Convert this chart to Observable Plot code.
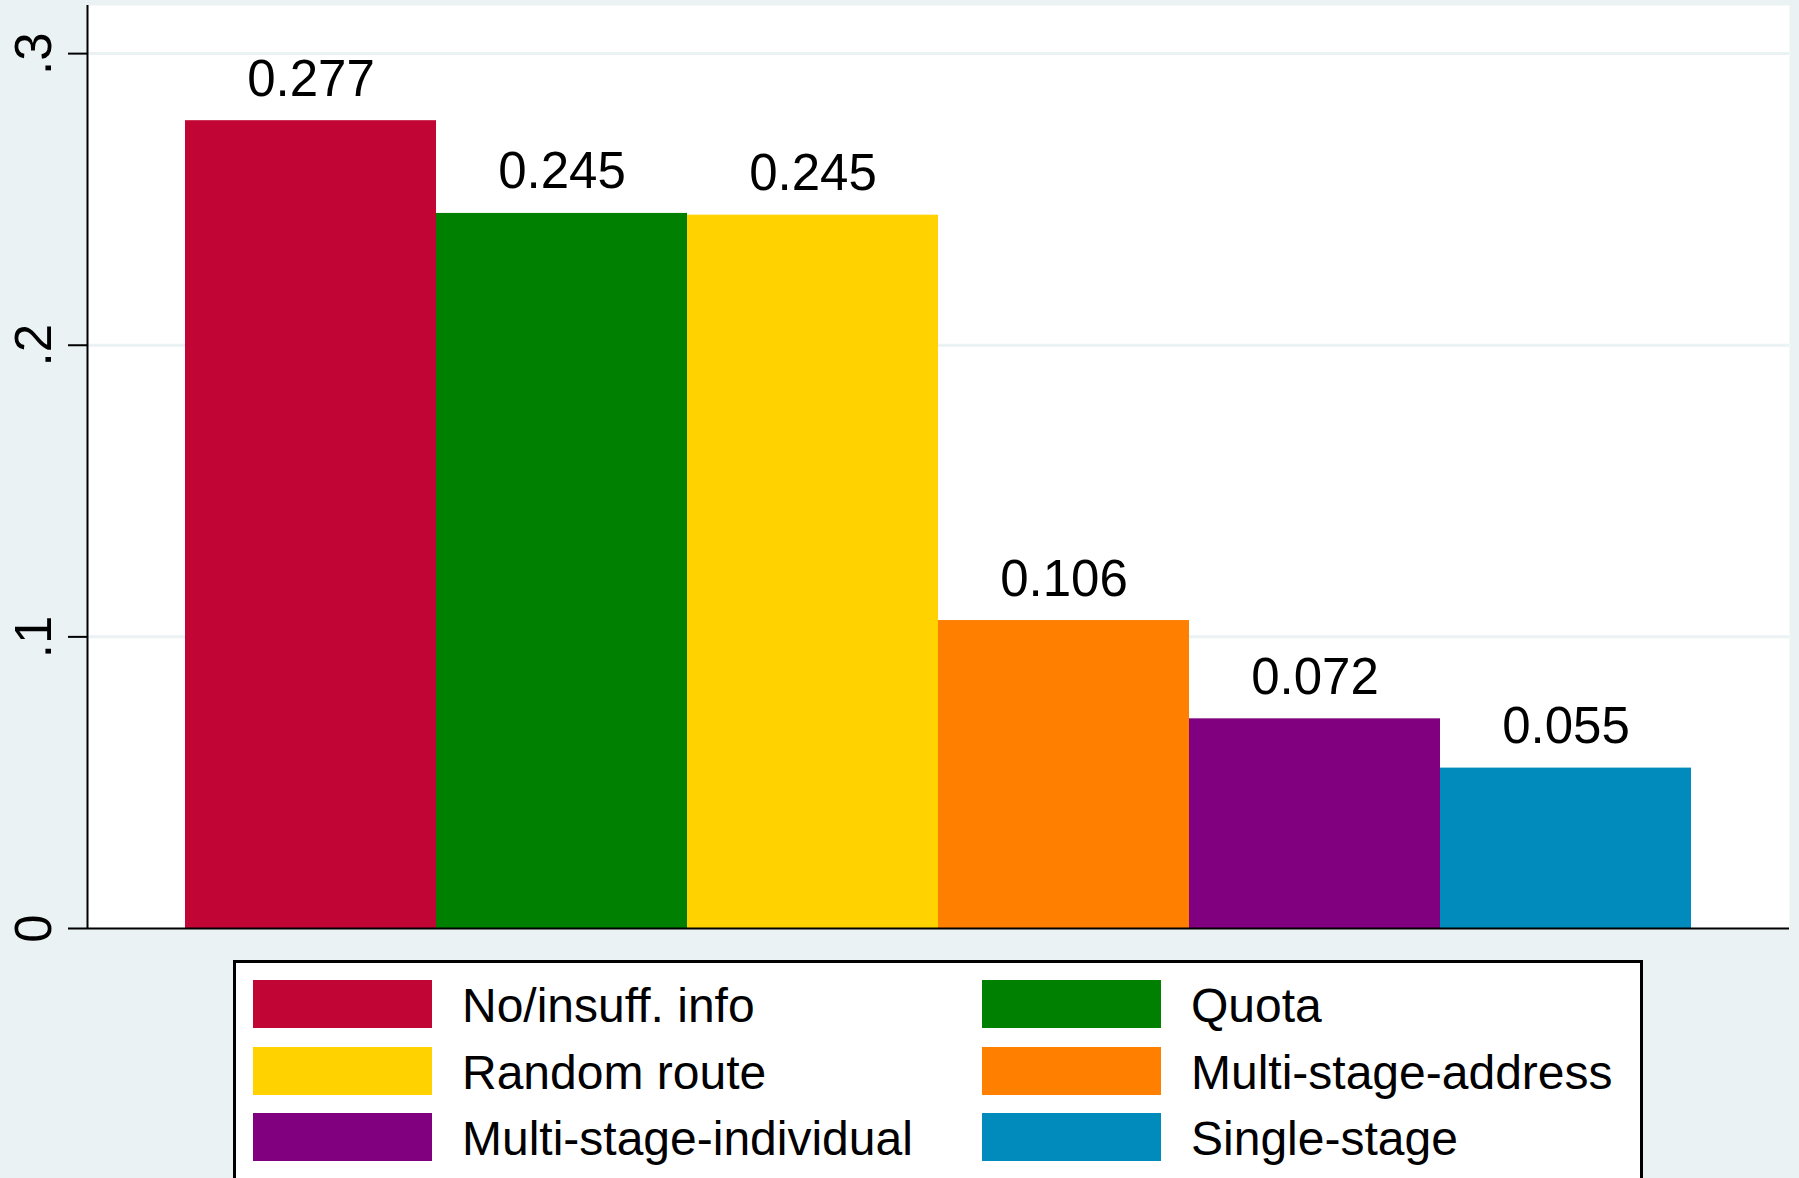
<!DOCTYPE html>
<html>
<head>
<meta charset="utf-8">
<script src="https://cdn.jsdelivr.net/npm/d3@7"></script>
<script src="https://cdn.jsdelivr.net/npm/@observablehq/plot@0.6"></script>
<style>
  html, body { margin: 0; padding: 0; background: #EAF2F3; overflow: hidden; }
  body { width: 1799px; height: 1178px; font-family: "Liberation Sans", Arial, sans-serif; }
  #chart svg { display: block; }
  #legend {
    margin-left: 233px;
    width: 1410px;
    height: 260px;
    background: white;
    border: 3px solid black;
    box-sizing: border-box;
    padding: 17px 0 0 17px;
    display: grid;
    grid-template-columns: 729px 600px;
    grid-auto-rows: 48px;
    row-gap: 18.5px;
  }
  .item { display: flex; align-items: center; height: 48px; }
  .sw { width: 179px; height: 48px; flex: none; }
  .lab { margin-left: 30px; font-size: 48px; line-height: 48px; color: black; white-space: nowrap; position: relative; top: 2px; }
</style>
</head>
<body>
<div id="chart"></div>
<div id="legend"></div>
<script>
const categories = ["No/insuff. info", "Quota", "Random route", "Multi-stage-address", "Multi-stage-individual", "Single-stage"];
const values = [0.277, 0.2452, 0.2446, 0.1056, 0.0719, 0.0550];
const colors = ["#C10534", "#008000", "#FFD200", "#FF7F00", "#800080", "#008BBC"];
const yTicks = [0, 0.1, 0.2, 0.3];
const yTickLabels = ["0", ".1", ".2", ".3"];

const data = categories.map((c, i) => ({cat: c, value: values[i]}));
const fmt = d3.format(".3f");

const width = 1799, height = 960;
const mL = 87, mR = 10, mT = 5, mB = 32;
const font = "Liberation Sans, Arial, sans-serif";

const plot = Plot.plot({
  width, height,
  marginLeft: mL, marginRight: mR, marginTop: mT, marginBottom: mB,
  style: {background: "transparent", fontFamily: font, color: "black"},
  x: {domain: categories, paddingInner: 0, paddingOuter: 0.39, axis: null},
  y: {domain: [0, 0.3165], axis: null},
  color: {domain: categories, range: colors},
  marks: [
    Plot.frame({fill: "white", stroke: "none"}),
    Plot.ruleY(yTicks.filter(d => d > 0), {stroke: "#EAF2F3", strokeWidth: 3}),
    Plot.barY(data, {x: "cat", y: "value", fill: "cat"}),
    Plot.text(data, {x: "cat", y: "value", text: d => fmt(d.value), dy: -25, lineAnchor: "bottom", fontSize: 51, fill: "black"}),
    Plot.ruleY([0], {stroke: "black", strokeWidth: 2}),
    Plot.ruleX([0], {x: null, dx: mL - (mL + width - mR) / 2, stroke: "black", strokeWidth: 2}),
    Plot.axisY({ticks: yTicks, tickSize: 19, tickFormat: () => "", label: null, stroke: "black", strokeWidth: 2}),
    Plot.text(yTicks, {y: d => d, text: (d, i) => yTickLabels[i], frameAnchor: "left", dx: -37, rotate: -90, textAnchor: "middle", lineAnchor: "bottom", fontSize: 51, fill: "black"})
  ]
});
document.getElementById("chart").appendChild(plot);

const legend = document.getElementById("legend");
categories.forEach((c, i) => {
  const item = document.createElement("div");
  item.className = "item";
  const sw = document.createElement("div");
  sw.className = "sw";
  sw.style.background = colors[i];
  const lab = document.createElement("span");
  lab.className = "lab";
  lab.textContent = c;
  item.appendChild(sw);
  item.appendChild(lab);
  legend.appendChild(item);
});
</script>
</body>
</html>
